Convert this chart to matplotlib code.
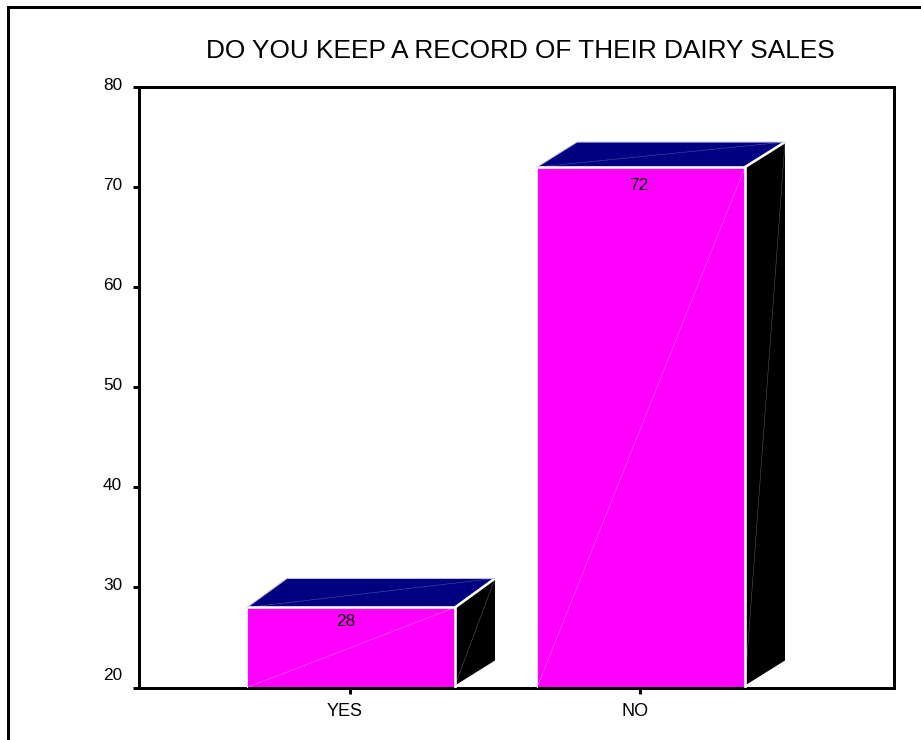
import matplotlib
matplotlib.use("Agg")
import matplotlib.pyplot as plt
from matplotlib.patches import Polygon, Rectangle
from matplotlib.transforms import ScaledTranslation

categories = ["YES", "NO"]
values = [28, 72]
y_ticks = [20, 30, 40, 50, 60, 70, 80]
title = "DO YOU KEEP A RECORD OF THEIR DAIRY SALES"

W, H, DPI = 921, 740, 100
plt.rcParams["font.family"] = ["Liberation Sans", "DejaVu Sans"]
PX = 72 / DPI

fig = plt.figure(figsize=(W / DPI, H / DPI), dpi=DPI, facecolor="white")

# outer frame runs off the right and bottom of the image
fig.add_artist(Rectangle((8 / W, -0.05), 1.1, 1 - 7.5 / H + 0.05, transform=fig.transFigure,
                         fill=False, edgecolor="black", linewidth=3 * PX))

L, R, T, B = 138.5, 893.5, 87, 687.5
ax = fig.add_axes([L / W, 1 - B / H, (R - L) / W, (B - T) / H])
ax.set_ylim(20, 80)
ax.set_xlim(-(350 - L) / 290, (R - 350) / 290)

for s in ax.spines.values():
    s.set_linewidth(3 * PX)
    s.set_color("black")

ax.set_yticks(y_ticks)
ax.set_xticks(range(len(categories)), categories)
ax.tick_params(axis="both", length=6 * PX, width=3 * PX, color="black")
ax.tick_params(axis="y", labelsize=12.4, pad=7.5)
ax.tick_params(axis="x", labelsize=13, pad=6.5)

# the reference's category labels sit left of their ticks; the lowest y label sits above its tick
for lab in ax.get_xticklabels():
    lab.set_transform(lab.get_transform() + ScaledTranslation(-5 / DPI, 0, fig.dpi_scale_trans))
for i, lab in enumerate(ax.get_yticklabels()):
    shift = 14 if i == 0 else 3.5
    lab.set_transform(lab.get_transform() + ScaledTranslation(0, shift / DPI, fig.dpi_scale_trans))

bar_w = 208 / 290
bar_shift = 1 / 290
dx = 40 / 290
dy_side = 2.5
dy_top = [2.9, 2.5]
label_drop = [14, 18]
label_left = [4.5, 1.5]
base = 20.2

for i, v in enumerate(values):
    x0, x1 = i + bar_shift - bar_w / 2, i + bar_shift + bar_w / 2
    d = dy_top[i]
    # front face
    ax.add_patch(Polygon([(x0, 20), (x1, 20), (x1, v), (x0, v)], closed=True,
                         facecolor="#ff00ff", edgecolor="none", zorder=2))
    ax.plot([x0, x1], [20, v], color="#ff70ff", lw=0.4, zorder=3)
    # side face
    ax.add_patch(Polygon([(x1, base), (x1 + dx, base + dy_side), (x1 + dx, v + d), (x1, v)], closed=True,
                         facecolor="black", edgecolor="none", zorder=2))
    ax.plot([x1, x1 + dx], [base, v + d], color="#555555", lw=0.4, zorder=3)
    # top face
    ax.add_patch(Polygon([(x0, v), (x1, v), (x1 + dx, v + d), (x0 + dx, v + d)], closed=True,
                         facecolor="#000080", edgecolor="none", zorder=2))
    ax.plot([x0, x1 + dx], [v, v + d], color="#5050a8", lw=0.4, zorder=3)
    # white highlights
    ax.plot([x0, x1, x1], [v, v, 20], color="white", lw=2.6 * PX, zorder=4, solid_joinstyle="miter")
    ax.plot([x1, x1 + dx], [v, v + d], color="white", lw=2.6 * PX, zorder=4)
    ax.plot([x0, x0 + dx, x1 + dx], [v, v + d, v + d], color="#c8c8e8", lw=1 * PX, zorder=4)
    ax.plot([x0, x0], [20, v], color="#fbe6fb", lw=1 * PX, zorder=4)
    ax.annotate(str(v), (i, v), xytext=(-label_left[i] * PX, -label_drop[i] * PX),
                textcoords="offset points", ha="center", va="center", fontsize=12.4,
                color="black", zorder=5)

fig.text(520 / W, 1 - 51 / H, title, ha="center", va="center", fontsize=18.9, color="black")

fig.savefig("out.png", dpi=DPI, facecolor="white")
